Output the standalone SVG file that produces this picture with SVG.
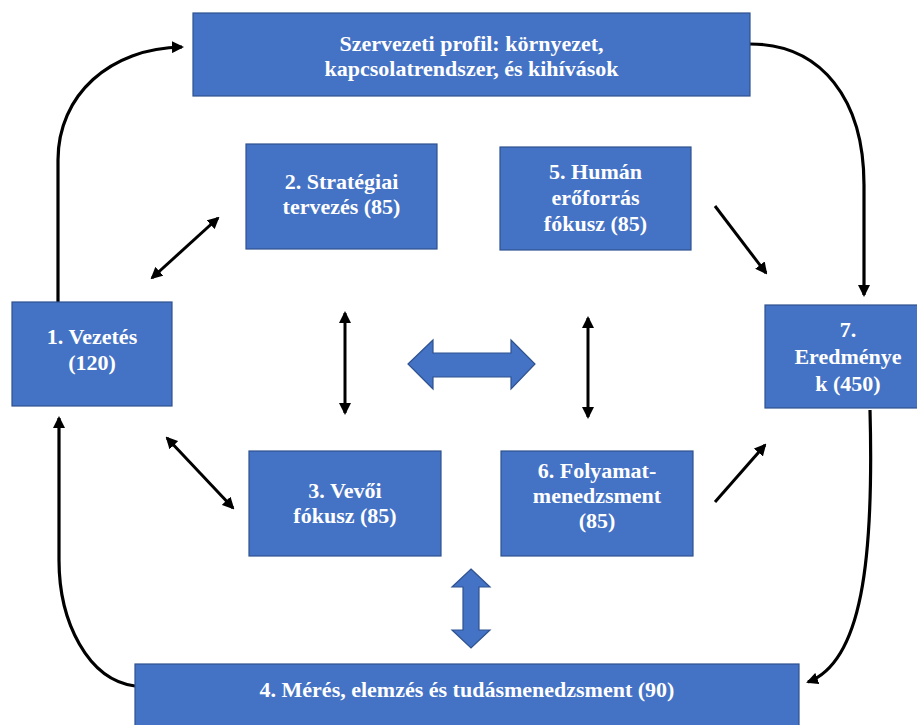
<svg xmlns="http://www.w3.org/2000/svg" width="917" height="725" viewBox="0 0 917 725">
  <style>
    .box { fill: #4472C4; stroke: #2F528F; stroke-width: 1.2; }
    .lbl { font-family: "Liberation Serif", Tinos, "Times New Roman", "DejaVu Serif", serif; font-weight: bold; font-size: 22px; fill: #FFFFFF; text-anchor: middle; }
    .flow { fill: none; stroke: #000000; stroke-width: 3.2; }
    .link { fill: none; stroke: #000000; stroke-width: 3; }
    .block { fill: #4472C4; stroke: #2F528F; stroke-width: 1.2; }
  </style>
  <defs>
    <marker id="head" viewBox="0 0 12 12" refX="10" refY="6" markerWidth="12" markerHeight="12" markerUnits="userSpaceOnUse" orient="auto-start-reverse">
      <path d="M0,0 L12,6 L0,12 Z" fill="#000000"/>
    </marker>
  </defs>
  <rect width="917" height="725" fill="#FFFFFF"/>

  <g id="connectors">
    <!-- outer loop -->
    <path class="flow" d="M58,302 V160 C58,95 110,48 182,47" marker-end="url(#head)"/>
    <path class="flow" d="M750,44 C822,44 864,100 864,185 V295" marker-end="url(#head)"/>
    <path class="flow" d="M870,410 C874,560 862,662 808,682" marker-end="url(#head)"/>
    <path class="flow" d="M135,686 C88,680 59,622 59,560 V418" marker-end="url(#head)"/>
    <!-- inner links -->
    <path class="link" d="M218,218 L152,278" marker-start="url(#head)" marker-end="url(#head)"/>
    <path class="link" d="M167,438 L233,508" marker-start="url(#head)" marker-end="url(#head)"/>
    <path class="link" d="M345,313 L345,413" marker-start="url(#head)" marker-end="url(#head)"/>
    <path class="link" d="M588,318 L588,417" marker-start="url(#head)" marker-end="url(#head)"/>
    <path class="link" d="M715,206 L766,273" marker-end="url(#head)"/>
    <path class="link" d="M715,502 L765,445" marker-end="url(#head)"/>
    <!-- block arrows -->
    <polygon class="block" points="408,364 433,340 433,353 511,353 511,340 535,364 511,389 511,377 433,377 433,389"/>
    <polygon class="block" points="471,569 490,587 479,587 479,630 490,630 471,648 452,630 463,630 463,587 452,587"/>
  </g>

  <g id="profil">
    <rect class="box" x="193" y="13" width="557" height="83"/>
    <text class="lbl" x="471.5" y="51">Szervezeti profil: környezet,</text>
    <text class="lbl" x="471.5" y="76">kapcsolatrendszer, és kihívások</text>
  </g>

  <g id="vezetes">
    <rect class="box" x="12" y="302" width="160" height="104"/>
    <text class="lbl" x="92" y="344">1. Vezetés</text>
    <text class="lbl" x="92" y="370">(120)</text>
  </g>

  <g id="strategiai">
    <rect class="box" x="246" y="144" width="191" height="105"/>
    <text class="lbl" x="341.5" y="189">2. Stratégiai</text>
    <text class="lbl" x="341.5" y="214">tervezés (85)</text>
  </g>

  <g id="vevoi">
    <rect class="box" x="249" y="451" width="192" height="105"/>
    <text class="lbl" x="345" y="498">3. Vevői</text>
    <text class="lbl" x="345" y="523">fókusz (85)</text>
  </g>

  <g id="meres">
    <rect class="box" x="135" y="664" width="664" height="70"/>
    <text class="lbl" x="467" y="697">4. Mérés, elemzés és tudásmenedzsment (90)</text>
  </g>

  <g id="human">
    <rect class="box" x="500" y="147" width="191" height="103"/>
    <text class="lbl" x="595.5" y="179">5. Humán</text>
    <text class="lbl" x="595.5" y="205">erőforrás</text>
    <text class="lbl" x="595.5" y="231">fókusz (85)</text>
  </g>

  <g id="folyamat">
    <rect class="box" x="501" y="451" width="192" height="105"/>
    <text class="lbl" x="597" y="478">6. Folyamat-</text>
    <text class="lbl" x="597" y="503">menedzsment</text>
    <text class="lbl" x="597" y="528">(85)</text>
  </g>

  <g id="eredmenyek">
    <rect class="box" x="765" y="305" width="166" height="103"/>
    <text class="lbl" x="848" y="337">7.</text>
    <text class="lbl" x="848" y="364">Eredménye</text>
    <text class="lbl" x="848" y="391">k (450)</text>
  </g>
</svg>
